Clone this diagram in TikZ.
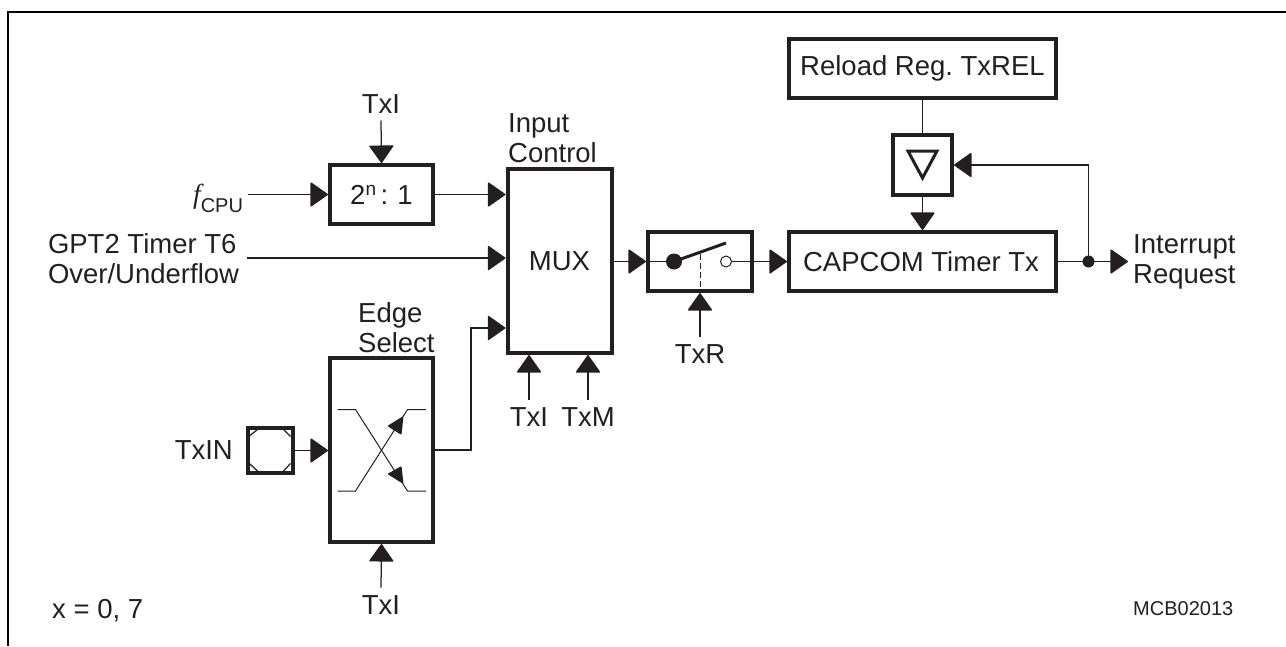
\documentclass[tikz,border=0pt]{standalone}
\usepackage{fontspec}
\setmainfont{Liberation Sans}
\newfontfamily\serifit{Liberation Serif}[ItalicFont=Liberation Serif Italic]
\usetikzlibrary{arrows.meta,calc}
\definecolor{ink}{HTML}{231F20}
\newcommand{\lab}{\fontsize{27.5}{30}\selectfont\frenchspacing}
\newcommand{\smalllab}{\fontsize{20}{22}\selectfont}
\tikzset{
  x=1pt,y=-1pt,
  every node/.style={text=ink},
  blk/.style={draw=ink,line width=4pt,inner sep=0pt,font=\lab,align=center},
  txt/.style={inner sep=0pt,font=\lab,align=left,text depth=0pt},
  sig/.style={txt,outer ysep=7.5pt},
  wire/.style={draw=ink,line width=1.25pt},
  arr/.style={wire,-{Triangle[length=18pt,width=25pt,line join=round,round]}},
  thin wire/.style={draw=ink,line width=1pt}
}
\begin{document}
\begin{tikzpicture}
\useasboundingbox (0,0) rectangle (1286,646);
% frame
\draw[black,line width=2.5pt] (8,646) -- (8,12) -- (1286,12);
% blocks
\node[blk,minimum width=103pt,minimum height=59pt] (div) at (381.5,194.5) {2\raisebox{9pt}{\fontsize{19}{20}\selectfont n}\,:\,\,1};
\node[blk,minimum width=104pt,minimum height=184pt] (mux) at (559.5,261) {MUX};
\node[blk,minimum width=103pt,minimum height=184pt] (edge) at (381.5,450) {};
\node[blk,minimum width=45pt,minimum height=45pt] (pad) at (270.5,450.5) {};
\node[blk,minimum width=104pt,minimum height=59pt] (sw) at (700,261.5) {};
\node[blk,minimum width=267pt,minimum height=59pt] (timer) at (922.5,261.5) {CAPCOM Timer Tx\hspace{3pt}};
\node[blk,minimum width=267pt,minimum height=59pt] (reload) at (922.5,68.5) {Reload Reg. TxREL};
\node[blk,minimum width=59pt,minimum height=60pt] (buf) at (922.5,165) {};
% labels
\node[sig,anchor=base] (tiTop) at (381,113) {TxI};
\node[sig,anchor=base] (tiMux) at (529,426) {TxI};
\node[sig,anchor=base] (tmMux) at (588,426) {TxM};
\node[sig,anchor=base] (tR) at (700,363) {TxR};
\node[sig,anchor=base] (tiEdge) at (381,614) {TxI};
\node[txt,anchor=base west] (ictl) at (508,162) {Input\\Control};
\node[txt,anchor=base west] (esel) at (358,352) {Edge\\Select};
\node[txt,anchor=base east,outer xsep=5pt] (fcpu) at (248,203) {{\serifit\itshape f}\raisebox{-9pt}{\fontsize{20}{22}\selectfont CPU}};
\node[txt,anchor=base west,outer xsep=8pt] (gpt) at (40,283) {GPT2 Timer T6\\Over/Underflow};
\node[txt,anchor=base east] (txin) at (233,459) {TxIN};
\node[txt,anchor=base west] (irq) at (1133,283) {Interrupt\\Request};
\node[txt,anchor=base west] (xeq) at (52,618) {x = 0, 7};
\node[txt,anchor=base west,font=\smalllab] (mcb) at (1133,615) {MCB02013};
% connectors
\draw[arr] (tiTop.south) -- (div.north);
\draw[arr] (fcpu.east |- div.west) -- (div.west);
\draw[arr] (div.east) -- (div.east -| mux.west);
\draw[arr] (gpt.east) -- (gpt.east -| mux.west);
\coordinate (muxC) at (mux.west |- 0,328);
\draw[arr] (edge.east) -- (471,450) -- (471,328) -- (muxC);
\draw[arr] (tiMux.north) -- (tiMux.north |- mux.south);
\draw[arr] (tmMux.north) -- (tmMux.north |- mux.south);
\draw[arr] (pad.east) -- (edge.west |- pad.east);
\draw[arr] (tiEdge.north) -- (edge.south);
\draw[arr] (mux.east |- sw.west) -- (sw.west);
\draw[arr] (sw.east) -- (timer.west);
\draw[arr] (tR.north) -- (sw.south);
\draw[wire] (reload.south) -- (buf.north);
\draw[arr] (buf.south) -- (timer.north);
\coordinate (tap) at (1088.5,261.5);
\coordinate (irqTip) at (1128,261.5);
\draw[wire] (timer.east) -- (tap);
\draw[arr] (tap) -- (irqTip);
\draw[arr] (tap) -- (tap |- buf.east) -- (buf.east);
\fill[ink] (tap) circle (6pt);
% buffer triangle
\draw[draw=ink,line width=3pt,line join=miter] (908,151) -- (937,151) -- (922.5,178) -- cycle;
% switch internals
\draw[wire] (sw.west) -- (674,261.5);
\fill[ink] (674,261.5) circle (8pt);
\draw[draw=ink,line width=3pt] (674,261.5) -- (726,243);
\draw[draw=ink,line width=1pt,dashed,dash pattern=on 6pt off 3pt] (700,254) -- (700,290);
\draw[draw=ink,line width=1pt] (726,261.5) circle (5.5pt);
\draw[wire] (732,261.5) -- (sw.east);
% edge-select cross
\draw[thin wire] (337.5,409.5) -- (355.5,409.5) -- (407.5,491) -- (426,491);
\draw[thin wire] (337.5,491) -- (355.5,491) -- (407.5,409.5) -- (426,409.5);
\fill[ink,rounded corners=1pt] (387.3,426) -- (403.5,416) -- (401.5,435) -- cycle;
\fill[ink,rounded corners=1pt] (387.3,474) -- (401.5,466) -- (403.5,484) -- cycle;
% pad corner ticks
\draw[wire] (250,435.5) -- (257.5,429.5);
\draw[wire] (283.5,429.5) -- (290.5,436.5);
\draw[wire] (250,464) -- (258,471.5);
\draw[wire] (283,471.5) -- (290.5,463.5);
\end{tikzpicture}
\end{document}
